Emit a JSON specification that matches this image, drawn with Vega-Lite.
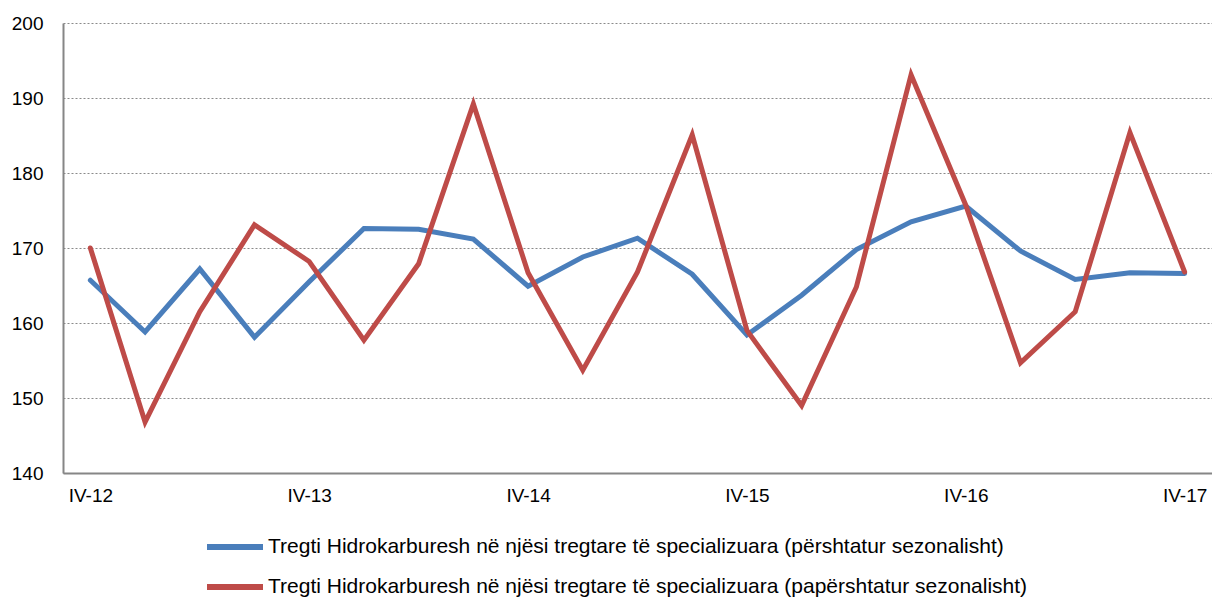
{
  "$schema": "https://vega.github.io/schema/vega-lite/v6.json",
  "width": 1149,
  "height": 450,
  "autosize": {"type": "none"},
  "padding": {"left": 63, "top": 23, "right": 0, "bottom": 124},
  "background": "white",
  "config": {
    "view": {"stroke": null},
    "font": "Liberation Sans"
  },
  "data": {
    "values": [
      {"q": "IV-12", "s": "Tregti Hidrokarburesh në njësi tregtare të specializuara (përshtatur sezonalisht)", "v": 165.7},
      {"q": "I-13", "s": "Tregti Hidrokarburesh në njësi tregtare të specializuara (përshtatur sezonalisht)", "v": 158.8},
      {"q": "II-13", "s": "Tregti Hidrokarburesh në njësi tregtare të specializuara (përshtatur sezonalisht)", "v": 167.2},
      {"q": "III-13", "s": "Tregti Hidrokarburesh në njësi tregtare të specializuara (përshtatur sezonalisht)", "v": 158.1},
      {"q": "IV-13", "s": "Tregti Hidrokarburesh në njësi tregtare të specializuara (përshtatur sezonalisht)", "v": 165.5},
      {"q": "I-14", "s": "Tregti Hidrokarburesh në njësi tregtare të specializuara (përshtatur sezonalisht)", "v": 172.6},
      {"q": "II-14", "s": "Tregti Hidrokarburesh në njësi tregtare të specializuara (përshtatur sezonalisht)", "v": 172.5},
      {"q": "III-14", "s": "Tregti Hidrokarburesh në njësi tregtare të specializuara (përshtatur sezonalisht)", "v": 171.2},
      {"q": "IV-14", "s": "Tregti Hidrokarburesh në njësi tregtare të specializuara (përshtatur sezonalisht)", "v": 164.9},
      {"q": "I-15", "s": "Tregti Hidrokarburesh në njësi tregtare të specializuara (përshtatur sezonalisht)", "v": 168.8},
      {"q": "II-15", "s": "Tregti Hidrokarburesh në njësi tregtare të specializuara (përshtatur sezonalisht)", "v": 171.3},
      {"q": "III-15", "s": "Tregti Hidrokarburesh në njësi tregtare të specializuara (përshtatur sezonalisht)", "v": 166.5},
      {"q": "IV-15", "s": "Tregti Hidrokarburesh në njësi tregtare të specializuara (përshtatur sezonalisht)", "v": 158.4},
      {"q": "I-16", "s": "Tregti Hidrokarburesh në njësi tregtare të specializuara (përshtatur sezonalisht)", "v": 163.7},
      {"q": "II-16", "s": "Tregti Hidrokarburesh në njësi tregtare të specializuara (përshtatur sezonalisht)", "v": 169.8},
      {"q": "III-16", "s": "Tregti Hidrokarburesh në njësi tregtare të specializuara (përshtatur sezonalisht)", "v": 173.5},
      {"q": "IV-16", "s": "Tregti Hidrokarburesh në njësi tregtare të specializuara (përshtatur sezonalisht)", "v": 175.6},
      {"q": "I-17", "s": "Tregti Hidrokarburesh në njësi tregtare të specializuara (përshtatur sezonalisht)", "v": 169.6},
      {"q": "II-17", "s": "Tregti Hidrokarburesh në njësi tregtare të specializuara (përshtatur sezonalisht)", "v": 165.8},
      {"q": "III-17", "s": "Tregti Hidrokarburesh në njësi tregtare të specializuara (përshtatur sezonalisht)", "v": 166.7},
      {"q": "IV-17", "s": "Tregti Hidrokarburesh në njësi tregtare të specializuara (përshtatur sezonalisht)", "v": 166.6},
      {"q": "IV-12", "s": "Tregti Hidrokarburesh në njësi tregtare të specializuara (papërshtatur sezonalisht)", "v": 170.0},
      {"q": "I-13", "s": "Tregti Hidrokarburesh në njësi tregtare të specializuara (papërshtatur sezonalisht)", "v": 146.8},
      {"q": "II-13", "s": "Tregti Hidrokarburesh në njësi tregtare të specializuara (papërshtatur sezonalisht)", "v": 161.5},
      {"q": "III-13", "s": "Tregti Hidrokarburesh në njësi tregtare të specializuara (papërshtatur sezonalisht)", "v": 173.1},
      {"q": "IV-13", "s": "Tregti Hidrokarburesh në njësi tregtare të specializuara (papërshtatur sezonalisht)", "v": 168.2},
      {"q": "I-14", "s": "Tregti Hidrokarburesh në njësi tregtare të specializuara (papërshtatur sezonalisht)", "v": 157.7},
      {"q": "II-14", "s": "Tregti Hidrokarburesh në njësi tregtare të specializuara (papërshtatur sezonalisht)", "v": 167.9},
      {"q": "III-14", "s": "Tregti Hidrokarburesh në njësi tregtare të specializuara (papërshtatur sezonalisht)", "v": 189.2},
      {"q": "IV-14", "s": "Tregti Hidrokarburesh në njësi tregtare të specializuara (papërshtatur sezonalisht)", "v": 166.7},
      {"q": "I-15", "s": "Tregti Hidrokarburesh në njësi tregtare të specializuara (papërshtatur sezonalisht)", "v": 153.7},
      {"q": "II-15", "s": "Tregti Hidrokarburesh në njësi tregtare të specializuara (papërshtatur sezonalisht)", "v": 166.8},
      {"q": "III-15", "s": "Tregti Hidrokarburesh në njësi tregtare të specializuara (papërshtatur sezonalisht)", "v": 185.1},
      {"q": "IV-15", "s": "Tregti Hidrokarburesh në njësi tregtare të specializuara (papërshtatur sezonalisht)", "v": 159.0},
      {"q": "I-16", "s": "Tregti Hidrokarburesh në njësi tregtare të specializuara (papërshtatur sezonalisht)", "v": 149.0},
      {"q": "II-16", "s": "Tregti Hidrokarburesh në njësi tregtare të specializuara (papërshtatur sezonalisht)", "v": 164.8},
      {"q": "III-16", "s": "Tregti Hidrokarburesh në njësi tregtare të specializuara (papërshtatur sezonalisht)", "v": 193.1},
      {"q": "IV-16", "s": "Tregti Hidrokarburesh në njësi tregtare të specializuara (papërshtatur sezonalisht)", "v": 175.7},
      {"q": "I-17", "s": "Tregti Hidrokarburesh në njësi tregtare të specializuara (papërshtatur sezonalisht)", "v": 154.7},
      {"q": "II-17", "s": "Tregti Hidrokarburesh në njësi tregtare të specializuara (papërshtatur sezonalisht)", "v": 161.5},
      {"q": "III-17", "s": "Tregti Hidrokarburesh në njësi tregtare të specializuara (papërshtatur sezonalisht)", "v": 185.4},
      {"q": "IV-17", "s": "Tregti Hidrokarburesh në njësi tregtare të specializuara (papërshtatur sezonalisht)", "v": 166.8}
    ]
  },
  "mark": {"type": "line", "strokeWidth": 5, "strokeCap": "round", "strokeJoin": "miter"},
  "encoding": {
    "x": {
      "field": "q",
      "type": "ordinal",
      "sort": null,
      "scale": {"type": "point", "padding": 0.5},
      "axis": {
        "title": null,
        "values": ["IV-12", "IV-13", "IV-14", "IV-15", "IV-16", "IV-17"],
        "labelAngle": 0,
        "labelFont": "Liberation Sans",
        "labelFontSize": 19,
        "labelColor": "#000000",
        "labelPadding": 13,
        "ticks": false,
        "domainColor": "#868686",
        "domainWidth": 2,
        "grid": false
      }
    },
    "y": {
      "field": "v",
      "type": "quantitative",
      "scale": {"domain": [140, 200], "nice": false, "zero": false},
      "axis": {
        "title": null,
        "values": [140, 150, 160, 170, 180, 190, 200],
        "labelFont": "Liberation Sans",
        "labelFontSize": 19,
        "labelColor": "#000000",
        "labelPadding": 20,
        "ticks": false,
        "domainColor": "#868686",
        "domainWidth": 2,
        "grid": true,
        "gridColor": "#8a8a8a",
        "gridDash": [2, 2],
        "gridWidth": 1
      }
    },
    "color": {
      "field": "s",
      "type": "nominal",
      "sort": null,
      "scale": {
        "domain": [
          "Tregti Hidrokarburesh në njësi tregtare të specializuara (përshtatur sezonalisht)",
          "Tregti Hidrokarburesh në njësi tregtare të specializuara (papërshtatur sezonalisht)"
        ],
        "range": ["#4A7EBB", "#BE4B48"]
      },
      "legend": {
        "title": null,
        "orient": "none",
        "legendX": 141,
        "legendY": 507,
        "direction": "vertical",
        "symbolType": "M-1,0H3",
        "symbolSize": 784,
        "symbolStrokeWidth": 6,
        "symbolStrokeCap": "round",
        "labelFont": "Liberation Sans",
        "labelFontSize": 21,
        "labelColor": "#000000",
        "labelLimit": 0,
        "labelOffset": 30,
        "rowPadding": 11,
        "padding": 0
      }
    }
  }
}
